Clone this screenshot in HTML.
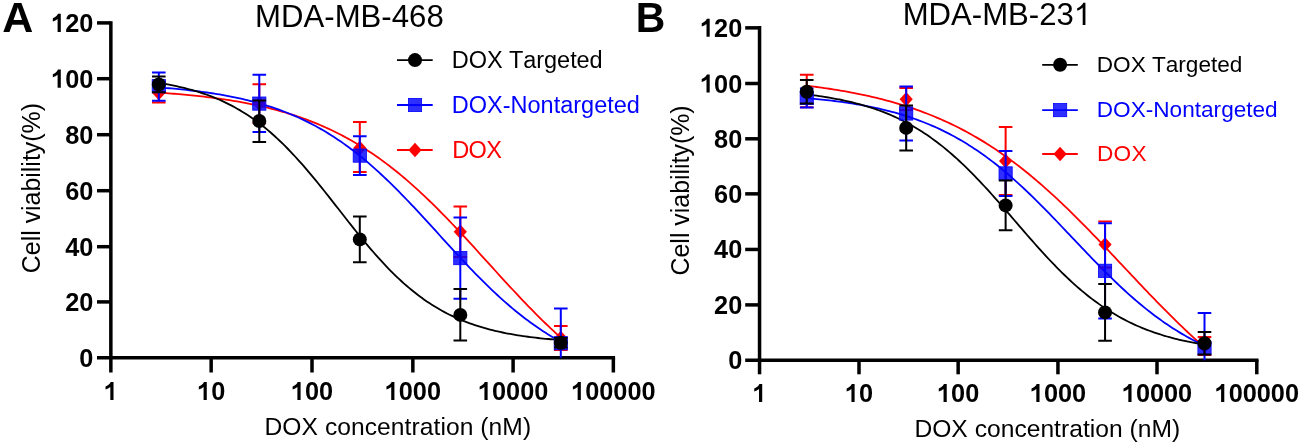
<!DOCTYPE html>
<html><head><meta charset="utf-8"><title>Cell viability</title>
<style>html,body{margin:0;padding:0;background:#fff;}body{width:1300px;height:445px;overflow:hidden;}svg{display:block;will-change:transform;}svg text{font-family:"Liberation Sans",sans-serif;}</style>
</head><body>
<svg width="1300" height="445" viewBox="0 0 1300 445" font-family="Liberation Sans, sans-serif">
<rect width="1300" height="445" fill="#fff"/>
<text transform="translate(2.2 32.4) scale(1.0 1)" font-size="43" font-weight="bold">A</text>
<text x="255.10" y="26.6" font-size="31.15">MDA-MB-468</text>
<path d="M110.85 21.15V357.80" stroke="#000" stroke-width="3.5" fill="none"/>
<path d="M97.00 357.80H615.10" stroke="#000" stroke-width="3.5" fill="none"/>
<text x="79.23" y="366.85" font-size="25.3" font-weight="bold" fill="#000">0</text>
<path d="M97.00 301.90H110.85" stroke="#000" stroke-width="3.5"/>
<text x="65.17" y="310.90" font-size="25.3" font-weight="bold" fill="#000">20</text>
<path d="M97.00 246.70H110.85" stroke="#000" stroke-width="3.5"/>
<text x="65.17" y="255.70" font-size="25.3" font-weight="bold" fill="#000">40</text>
<path d="M97.00 190.70H110.85" stroke="#000" stroke-width="3.5"/>
<text x="65.17" y="199.70" font-size="25.3" font-weight="bold" fill="#000">60</text>
<path d="M97.00 134.70H110.85" stroke="#000" stroke-width="3.5"/>
<text x="65.17" y="143.70" font-size="25.3" font-weight="bold" fill="#000">80</text>
<path d="M97.00 78.70H110.85" stroke="#000" stroke-width="3.5"/>
<path transform="translate(51.10 87.70) scale(25.3 -25.3)" d="M0.383 0L0.257 0L0.257 0.512C0.203 0.466 0.142 0.434 0.068 0.412L0.068 0.536C0.107 0.548 0.145 0.571 0.186 0.605C0.227 0.639 0.256 0.676 0.272 0.716L0.383 0.716Z" fill="#000"/>
<text x="65.17" y="87.70" font-size="25.3" font-weight="bold" fill="#000">00</text>
<path d="M97.00 22.90H110.85" stroke="#000" stroke-width="3.5"/>
<path transform="translate(51.10 31.90) scale(25.3 -25.3)" d="M0.383 0L0.257 0L0.257 0.512C0.203 0.466 0.142 0.434 0.068 0.412L0.068 0.536C0.107 0.548 0.145 0.571 0.186 0.605C0.227 0.639 0.256 0.676 0.272 0.716L0.383 0.716Z" fill="#000"/>
<text x="65.17" y="31.90" font-size="25.3" font-weight="bold" fill="#000">20</text>
<path d="M110.85 357.80V372.50" stroke="#000" stroke-width="3.5"/>
<path transform="translate(103.82 400.00) scale(25.3 -25.3)" d="M0.383 0L0.257 0L0.257 0.512C0.203 0.466 0.142 0.434 0.068 0.412L0.068 0.536C0.107 0.548 0.145 0.571 0.186 0.605C0.227 0.639 0.256 0.676 0.272 0.716L0.383 0.716Z" fill="#000"/>
<path d="M211.15 357.80V372.50" stroke="#000" stroke-width="3.5"/>
<path transform="translate(197.08 400.00) scale(25.3 -25.3)" d="M0.383 0L0.257 0L0.257 0.512C0.203 0.466 0.142 0.434 0.068 0.412L0.068 0.536C0.107 0.548 0.145 0.571 0.186 0.605C0.227 0.639 0.256 0.676 0.272 0.716L0.383 0.716Z" fill="#000"/>
<text x="211.15" y="400.00" font-size="25.3" font-weight="bold" fill="#000">0</text>
<path d="M312.00 357.80V372.50" stroke="#000" stroke-width="3.5"/>
<path transform="translate(290.90 400.00) scale(25.3 -25.3)" d="M0.383 0L0.257 0L0.257 0.512C0.203 0.466 0.142 0.434 0.068 0.412L0.068 0.536C0.107 0.548 0.145 0.571 0.186 0.605C0.227 0.639 0.256 0.676 0.272 0.716L0.383 0.716Z" fill="#000"/>
<text x="304.97" y="400.00" font-size="25.3" font-weight="bold" fill="#000">00</text>
<path d="M412.85 357.80V372.50" stroke="#000" stroke-width="3.5"/>
<path transform="translate(384.72 400.00) scale(25.3 -25.3)" d="M0.383 0L0.257 0L0.257 0.512C0.203 0.466 0.142 0.434 0.068 0.412L0.068 0.536C0.107 0.548 0.145 0.571 0.186 0.605C0.227 0.639 0.256 0.676 0.272 0.716L0.383 0.716Z" fill="#000"/>
<text x="398.78" y="400.00" font-size="25.3" font-weight="bold" fill="#000">000</text>
<path d="M513.10 357.80V372.50" stroke="#000" stroke-width="3.5"/>
<path transform="translate(477.93 400.00) scale(25.3 -25.3)" d="M0.383 0L0.257 0L0.257 0.512C0.203 0.466 0.142 0.434 0.068 0.412L0.068 0.536C0.107 0.548 0.145 0.571 0.186 0.605C0.227 0.639 0.256 0.676 0.272 0.716L0.383 0.716Z" fill="#000"/>
<text x="492.00" y="400.00" font-size="25.3" font-weight="bold" fill="#000">0000</text>
<path d="M613.35 357.80V372.50" stroke="#000" stroke-width="3.5"/>
<path transform="translate(571.15 400.00) scale(25.3 -25.3)" d="M0.383 0L0.257 0L0.257 0.512C0.203 0.466 0.142 0.434 0.068 0.412L0.068 0.536C0.107 0.548 0.145 0.571 0.186 0.605C0.227 0.639 0.256 0.676 0.272 0.716L0.383 0.716Z" fill="#000"/>
<text x="585.22" y="400.00" font-size="25.3" font-weight="bold" fill="#000">00000</text>
<text id="L_xt" x="264.50" textLength="266.60" lengthAdjust="spacing" y="435.2" font-size="24.6" style="font-kerning:none">DOX concentration (nM)</text>
<text transform="translate(39.6 188.1) rotate(-90)" font-size="24.9" text-anchor="middle">Cell viability(%)</text>
<polyline points="158.80,92.60 161.33,92.77 163.86,92.95 166.39,93.14 168.91,93.33 171.44,93.53 173.97,93.73 176.50,93.94 179.03,94.16 181.56,94.38 184.08,94.61 186.61,94.85 189.14,95.09 191.67,95.34 194.20,95.60 196.73,95.87 199.25,96.15 201.78,96.43 204.31,96.72 206.84,97.03 209.37,97.34 211.90,97.66 214.42,97.99 216.95,98.33 219.48,98.68 222.01,99.04 224.54,99.42 227.06,99.80 229.59,100.19 232.12,100.60 234.65,101.02 237.18,101.45 239.71,101.90 242.23,102.35 244.76,102.83 247.29,103.31 249.82,103.81 252.35,104.32 254.88,104.85 257.40,105.40 259.93,105.96 262.46,106.53 264.99,107.12 267.52,107.73 270.05,108.36 272.57,109.01 275.10,109.67 277.63,110.35 280.16,111.05 282.69,111.77 285.22,112.51 287.74,113.27 290.27,114.05 292.80,114.86 295.33,115.68 297.86,116.53 300.39,117.40 302.91,118.29 305.44,119.21 307.97,120.15 310.50,121.11 313.03,122.10 315.56,123.12 318.08,124.16 320.61,125.23 323.14,126.32 325.67,127.45 328.20,128.60 330.73,129.78 333.25,130.98 335.78,132.22 338.31,133.49 340.84,134.78 343.37,136.11 345.90,137.47 348.42,138.86 350.95,140.28 353.48,141.73 356.01,143.21 358.54,144.73 361.06,146.28 363.59,147.86 366.12,149.48 368.65,151.13 371.18,152.81 373.71,154.53 376.23,156.28 378.76,158.06 381.29,159.88 383.82,161.74 386.35,163.62 388.88,165.54 391.40,167.50 393.93,169.49 396.46,171.51 398.99,173.57 401.52,175.66 404.05,177.78 406.57,179.94 409.10,182.13 411.63,184.35 414.16,186.60 416.69,188.88 419.22,191.20 421.74,193.54 424.27,195.92 426.80,198.32 429.33,200.75 431.86,203.21 434.39,205.69 436.91,208.20 439.44,210.74 441.97,213.30 444.50,215.88 447.03,218.48 449.56,221.10 452.08,223.75 454.61,226.41 457.14,229.09 459.67,231.78 462.20,234.49 464.73,237.22 467.25,239.96 469.78,242.70 472.31,245.46 474.84,248.23 477.37,251.00 479.90,253.78 482.42,256.56 484.95,259.34 487.48,262.13 490.01,264.92 492.54,267.70 495.06,270.48 497.59,273.26 500.12,276.03 502.65,278.80 505.18,281.56 507.71,284.30 510.23,287.04 512.76,289.76 515.29,292.47 517.82,295.17 520.35,297.85 522.88,300.51 525.40,303.15 527.93,305.78 530.46,308.38 532.99,310.96 535.52,313.52 538.05,316.05 540.57,318.56 543.10,321.04 545.63,323.50 548.16,325.93 550.69,328.33 553.22,330.71 555.74,333.05 558.27,335.36 560.80,337.65" fill="none" stroke="#ff0000" stroke-width="1.8"/>
<polyline points="158.80,87.45 161.33,87.64 163.86,87.83 166.39,88.04 168.91,88.25 171.44,88.47 173.97,88.70 176.50,88.93 179.03,89.18 181.56,89.43 184.08,89.69 186.61,89.96 189.14,90.24 191.67,90.53 194.20,90.83 196.73,91.14 199.25,91.47 201.78,91.80 204.31,92.14 206.84,92.50 209.37,92.87 211.90,93.25 214.42,93.65 216.95,94.06 219.48,94.48 222.01,94.91 224.54,95.37 227.06,95.83 229.59,96.32 232.12,96.82 234.65,97.33 237.18,97.87 239.71,98.42 242.23,98.99 244.76,99.58 247.29,100.18 249.82,100.81 252.35,101.46 254.88,102.13 257.40,102.82 259.93,103.53 262.46,104.27 264.99,105.03 267.52,105.81 270.05,106.62 272.57,107.45 275.10,108.31 277.63,109.19 280.16,110.10 282.69,111.04 285.22,112.01 287.74,113.01 290.27,114.03 292.80,115.09 295.33,116.18 297.86,117.30 300.39,118.45 302.91,119.63 305.44,120.84 307.97,122.09 310.50,123.38 313.03,124.70 315.56,126.05 318.08,127.44 320.61,128.86 323.14,130.32 325.67,131.82 328.20,133.36 330.73,134.93 333.25,136.54 335.78,138.19 338.31,139.88 340.84,141.61 343.37,143.38 345.90,145.18 348.42,147.03 350.95,148.91 353.48,150.83 356.01,152.79 358.54,154.79 361.06,156.83 363.59,158.91 366.12,161.02 368.65,163.18 371.18,165.37 373.71,167.59 376.23,169.86 378.76,172.15 381.29,174.49 383.82,176.85 386.35,179.25 388.88,181.68 391.40,184.14 393.93,186.63 396.46,189.15 398.99,191.70 401.52,194.27 404.05,196.87 406.57,199.50 409.10,202.14 411.63,204.80 414.16,207.49 416.69,210.19 419.22,212.90 421.74,215.64 424.27,218.38 426.80,221.13 429.33,223.89 431.86,226.66 434.39,229.44 436.91,232.21 439.44,234.99 441.97,237.77 444.50,240.54 447.03,243.31 449.56,246.08 452.08,248.84 454.61,251.58 457.14,254.32 459.67,257.04 462.20,259.75 464.73,262.44 467.25,265.12 469.78,267.77 472.31,270.40 474.84,273.01 477.37,275.60 479.90,278.16 482.42,280.69 484.95,283.19 487.48,285.67 490.01,288.11 492.54,290.53 495.06,292.91 497.59,295.26 500.12,297.57 502.65,299.85 505.18,302.09 507.71,304.30 510.23,306.47 512.76,308.60 515.29,310.69 517.82,312.75 520.35,314.77 522.88,316.75 525.40,318.69 527.93,320.59 530.46,322.45 532.99,324.27 535.52,326.06 538.05,327.80 540.57,329.51 543.10,331.18 545.63,332.80 548.16,334.40 550.69,335.95 553.22,337.46 555.74,338.94 558.27,340.38 560.80,341.79" fill="none" stroke="#0000ff" stroke-width="1.8"/>
<polyline points="158.80,82.91 161.33,83.32 163.86,83.75 166.39,84.20 168.91,84.67 171.44,85.15 173.97,85.67 176.50,86.20 179.03,86.76 181.56,87.34 184.08,87.95 186.61,88.59 189.14,89.25 191.67,89.94 194.20,90.67 196.73,91.42 199.25,92.21 201.78,93.03 204.31,93.88 206.84,94.77 209.37,95.70 211.90,96.66 214.42,97.66 216.95,98.71 219.48,99.79 222.01,100.92 224.54,102.10 227.06,103.32 229.59,104.58 232.12,105.90 234.65,107.26 237.18,108.67 239.71,110.14 242.23,111.66 244.76,113.23 247.29,114.85 249.82,116.53 252.35,118.27 254.88,120.07 257.40,121.92 259.93,123.83 262.46,125.80 264.99,127.82 267.52,129.91 270.05,132.06 272.57,134.27 275.10,136.53 277.63,138.86 280.16,141.24 282.69,143.69 285.22,146.19 287.74,148.75 290.27,151.36 292.80,154.03 295.33,156.74 297.86,159.52 300.39,162.34 302.91,165.20 305.44,168.12 307.97,171.07 310.50,174.07 313.03,177.10 315.56,180.17 318.08,183.27 320.61,186.40 323.14,189.55 325.67,192.73 328.20,195.92 330.73,199.13 333.25,202.35 335.78,205.58 338.31,208.81 340.84,212.05 343.37,215.28 345.90,218.50 348.42,221.71 350.95,224.91 353.48,228.09 356.01,231.25 358.54,234.38 361.06,237.49 363.59,240.56 366.12,243.60 368.65,246.60 371.18,249.57 373.71,252.49 376.23,255.37 378.76,258.20 381.29,260.98 383.82,263.71 386.35,266.38 388.88,269.01 391.40,271.58 393.93,274.09 396.46,276.54 398.99,278.94 401.52,281.28 404.05,283.56 406.57,285.77 409.10,287.93 411.63,290.03 414.16,292.07 416.69,294.06 419.22,295.98 421.74,297.84 424.27,299.65 426.80,301.39 429.33,303.09 431.86,304.72 434.39,306.30 436.91,307.83 439.44,309.31 441.97,310.73 444.50,312.11 447.03,313.43 449.56,314.70 452.08,315.93 454.61,317.12 457.14,318.25 459.67,319.35 462.20,320.40 464.73,321.41 467.25,322.39 469.78,323.32 472.31,324.22 474.84,325.08 477.37,325.90 479.90,326.70 482.42,327.46 484.95,328.19 487.48,328.88 490.01,329.55 492.54,330.20 495.06,330.81 497.59,331.40 500.12,331.96 502.65,332.50 505.18,333.02 507.71,333.51 510.23,333.98 512.76,334.43 515.29,334.87 517.82,335.28 520.35,335.68 522.88,336.05 525.40,336.41 527.93,336.76 530.46,337.09 532.99,337.40 535.52,337.71 538.05,337.99 540.57,338.27 543.10,338.53 545.63,338.78 548.16,339.02 550.69,339.25 553.22,339.47 555.74,339.68 558.27,339.87 560.80,340.06" fill="none" stroke="#000000" stroke-width="1.8"/>
<path d="M158.80 84.00V102.60M152.00 84.00H165.60M152.00 102.60H165.60" stroke="#ff0000" stroke-width="2.0" fill="none"/>
<path d="M158.80 85.70L165.40 93.00L158.80 100.30L152.20 93.00Z" fill="#ff0000"/>
<path d="M259.30 84.30V122.70M252.50 84.30H266.10M252.50 122.70H266.10" stroke="#ff0000" stroke-width="2.0" fill="none"/>
<path d="M259.30 96.20L265.90 103.50L259.30 110.80L252.70 103.50Z" fill="#ff0000"/>
<path d="M359.80 122.00V172.00M353.00 122.00H366.60M353.00 172.00H366.60" stroke="#ff0000" stroke-width="2.0" fill="none"/>
<path d="M359.80 140.70L366.40 148.00L359.80 155.30L353.20 148.00Z" fill="#ff0000"/>
<path d="M460.30 206.50V257.00M453.50 206.50H467.10M453.50 257.00H467.10" stroke="#ff0000" stroke-width="2.0" fill="none"/>
<path d="M460.30 224.45L466.90 231.75L460.30 239.05L453.70 231.75Z" fill="#ff0000"/>
<path d="M560.80 326.00V350.00M554.00 326.00H567.60M554.00 350.00H567.60" stroke="#ff0000" stroke-width="2.0" fill="none"/>
<path d="M560.80 330.70L567.40 338.00L560.80 345.30L554.20 338.00Z" fill="#ff0000"/>
<path d="M158.80 72.50V100.80M152.00 72.50H165.60M152.00 100.80H165.60" stroke="#0000ff" stroke-width="2.0" fill="none"/>
<rect x="152.20" y="79.60" width="13.2" height="13.2" fill="#0000ff" fill-opacity="0.82" stroke="#0000ff" stroke-width="0.8"/>
<path d="M259.30 74.80V131.90M252.50 74.80H266.10M252.50 131.90H266.10" stroke="#0000ff" stroke-width="2.0" fill="none"/>
<rect x="252.70" y="97.00" width="13.2" height="13.2" fill="#0000ff" fill-opacity="0.82" stroke="#0000ff" stroke-width="0.8"/>
<path d="M359.80 136.20V174.90M353.00 136.20H366.60M353.00 174.90H366.60" stroke="#0000ff" stroke-width="2.0" fill="none"/>
<rect x="353.20" y="149.00" width="13.2" height="13.2" fill="#0000ff" fill-opacity="0.82" stroke="#0000ff" stroke-width="0.8"/>
<path d="M460.30 217.40V298.80M453.50 217.40H467.10M453.50 298.80H467.10" stroke="#0000ff" stroke-width="2.0" fill="none"/>
<rect x="453.70" y="251.50" width="13.2" height="13.2" fill="#0000ff" fill-opacity="0.82" stroke="#0000ff" stroke-width="0.8"/>
<path d="M560.80 308.40V357.80M554.00 308.40H567.60" stroke="#0000ff" stroke-width="2.0" fill="none"/>
<rect x="554.20" y="336.60" width="13.2" height="13.2" fill="#0000ff" fill-opacity="0.82" stroke="#0000ff" stroke-width="0.8"/>
<path d="M158.80 76.50V92.30M152.00 76.50H165.60M152.00 92.30H165.60" stroke="#000000" stroke-width="2.0" fill="none"/>
<circle cx="158.80" cy="84.40" r="7.0" fill="#000"/>
<path d="M259.30 100.50V142.00M252.50 100.50H266.10M252.50 142.00H266.10" stroke="#000000" stroke-width="2.0" fill="none"/>
<circle cx="259.30" cy="121.00" r="7.0" fill="#000"/>
<path d="M359.80 216.40V262.20M353.00 216.40H366.60M353.00 262.20H366.60" stroke="#000000" stroke-width="2.0" fill="none"/>
<circle cx="359.80" cy="239.40" r="7.0" fill="#000"/>
<path d="M460.30 288.90V340.60M453.50 288.90H467.10M453.50 340.60H467.10" stroke="#000000" stroke-width="2.0" fill="none"/>
<circle cx="460.30" cy="314.90" r="7.0" fill="#000"/>
<path d="M560.80 338.00V347.60M554.00 338.00H567.60M554.00 347.60H567.60" stroke="#000000" stroke-width="2.0" fill="none"/>
<circle cx="560.80" cy="342.80" r="7.0" fill="#000"/>
<path d="M397.00 60.10H432.70" stroke="#000000" stroke-width="1.8"/>
<circle cx="415.00" cy="60.10" r="7.0" fill="#000"/>
<text id="L_black" x="451.80" textLength="150.90" lengthAdjust="spacing" y="68.1" font-size="23.5" fill="#000000" style="font-kerning:none">DOX Targeted</text>
<path d="M397.00 105.00H432.70" stroke="#0000ff" stroke-width="1.8"/>
<rect x="408.40" y="98.40" width="13.2" height="13.2" fill="#0000ff" fill-opacity="0.82" stroke="#0000ff" stroke-width="0.8"/>
<text id="L_blue" x="451.80" textLength="188.10" lengthAdjust="spacing" y="112.8" font-size="23.5" fill="#0000ff" style="font-kerning:none">DOX-Nontargeted</text>
<path d="M397.00 150.00H432.70" stroke="#ff0000" stroke-width="1.8"/>
<path d="M415.00 142.70L421.60 150.00L415.00 157.30L408.40 150.00Z" fill="#ff0000"/>
<text id="L_red" x="452.30" textLength="49.60" lengthAdjust="spacing" y="157.7" font-size="23.5" fill="#ff0000" style="font-kerning:none">DOX</text>
<text transform="translate(635.8 32.1) scale(0.95 1)" font-size="43" font-weight="bold">B</text>
<text x="902.67" y="25.0" font-size="31.12">MDA-MB-23</text>
<path transform="translate(1073.83 25.0) scale(31.12 -31.12)" d="M0.3726 0L0.2847 0L0.2847 0.56C0.2632 0.5395 0.2349 0.519 0.2002 0.4985C0.1655 0.478 0.1343 0.4624 0.1079 0.4541L0.1079 0.539C0.155 0.5615 0.196 0.589 0.231 0.621C0.266 0.653 0.291 0.685 0.305 0.7188L0.3726 0.7188Z" fill="#000"/>
<path d="M759.55 26.10V360.20" stroke="#000" stroke-width="3.5" fill="none"/>
<path d="M745.20 360.20H1258.55" stroke="#000" stroke-width="3.5" fill="none"/>
<text x="728.13" y="369.20" font-size="25.3" font-weight="bold" fill="#000">0</text>
<path d="M745.20 304.90H759.55" stroke="#000" stroke-width="3.5"/>
<text x="714.07" y="313.90" font-size="25.3" font-weight="bold" fill="#000">20</text>
<path d="M745.20 249.45H759.55" stroke="#000" stroke-width="3.5"/>
<text x="714.07" y="258.45" font-size="25.3" font-weight="bold" fill="#000">40</text>
<path d="M745.20 193.85H759.55" stroke="#000" stroke-width="3.5"/>
<text x="714.07" y="202.85" font-size="25.3" font-weight="bold" fill="#000">60</text>
<path d="M745.20 138.80H759.55" stroke="#000" stroke-width="3.5"/>
<text x="714.07" y="147.80" font-size="25.3" font-weight="bold" fill="#000">80</text>
<path d="M745.20 83.50H759.55" stroke="#000" stroke-width="3.5"/>
<path transform="translate(700.00 92.50) scale(25.3 -25.3)" d="M0.383 0L0.257 0L0.257 0.512C0.203 0.466 0.142 0.434 0.068 0.412L0.068 0.536C0.107 0.548 0.145 0.571 0.186 0.605C0.227 0.639 0.256 0.676 0.272 0.716L0.383 0.716Z" fill="#000"/>
<text x="714.07" y="92.50" font-size="25.3" font-weight="bold" fill="#000">00</text>
<path d="M745.20 27.85H759.55" stroke="#000" stroke-width="3.5"/>
<path transform="translate(700.00 36.85) scale(25.3 -25.3)" d="M0.383 0L0.257 0L0.257 0.512C0.203 0.466 0.142 0.434 0.068 0.412L0.068 0.536C0.107 0.548 0.145 0.571 0.186 0.605C0.227 0.639 0.256 0.676 0.272 0.716L0.383 0.716Z" fill="#000"/>
<text x="714.07" y="36.85" font-size="25.3" font-weight="bold" fill="#000">20</text>
<path d="M759.55 360.20V374.30" stroke="#000" stroke-width="3.5"/>
<path transform="translate(752.52 402.00) scale(25.3 -25.3)" d="M0.383 0L0.257 0L0.257 0.512C0.203 0.466 0.142 0.434 0.068 0.412L0.068 0.536C0.107 0.548 0.145 0.571 0.186 0.605C0.227 0.639 0.256 0.676 0.272 0.716L0.383 0.716Z" fill="#000"/>
<path d="M859.00 360.20V374.30" stroke="#000" stroke-width="3.5"/>
<path transform="translate(844.93 402.00) scale(25.3 -25.3)" d="M0.383 0L0.257 0L0.257 0.512C0.203 0.466 0.142 0.434 0.068 0.412L0.068 0.536C0.107 0.548 0.145 0.571 0.186 0.605C0.227 0.639 0.256 0.676 0.272 0.716L0.383 0.716Z" fill="#000"/>
<text x="859.00" y="402.00" font-size="25.3" font-weight="bold" fill="#000">0</text>
<path d="M958.15 360.20V374.30" stroke="#000" stroke-width="3.5"/>
<path transform="translate(937.05 402.00) scale(25.3 -25.3)" d="M0.383 0L0.257 0L0.257 0.512C0.203 0.466 0.142 0.434 0.068 0.412L0.068 0.536C0.107 0.548 0.145 0.571 0.186 0.605C0.227 0.639 0.256 0.676 0.272 0.716L0.383 0.716Z" fill="#000"/>
<text x="951.12" y="402.00" font-size="25.3" font-weight="bold" fill="#000">00</text>
<path d="M1057.95 360.20V374.30" stroke="#000" stroke-width="3.5"/>
<path transform="translate(1029.82 402.00) scale(25.3 -25.3)" d="M0.383 0L0.257 0L0.257 0.512C0.203 0.466 0.142 0.434 0.068 0.412L0.068 0.536C0.107 0.548 0.145 0.571 0.186 0.605C0.227 0.639 0.256 0.676 0.272 0.716L0.383 0.716Z" fill="#000"/>
<text x="1043.88" y="402.00" font-size="25.3" font-weight="bold" fill="#000">000</text>
<path d="M1157.00 360.20V374.30" stroke="#000" stroke-width="3.5"/>
<path transform="translate(1121.83 402.00) scale(25.3 -25.3)" d="M0.383 0L0.257 0L0.257 0.512C0.203 0.466 0.142 0.434 0.068 0.412L0.068 0.536C0.107 0.548 0.145 0.571 0.186 0.605C0.227 0.639 0.256 0.676 0.272 0.716L0.383 0.716Z" fill="#000"/>
<text x="1135.90" y="402.00" font-size="25.3" font-weight="bold" fill="#000">0000</text>
<path d="M1256.80 360.20V374.30" stroke="#000" stroke-width="3.5"/>
<path transform="translate(1214.60 402.00) scale(25.3 -25.3)" d="M0.383 0L0.257 0L0.257 0.512C0.203 0.466 0.142 0.434 0.068 0.412L0.068 0.536C0.107 0.548 0.145 0.571 0.186 0.605C0.227 0.639 0.256 0.676 0.272 0.716L0.383 0.716Z" fill="#000"/>
<text x="1228.67" y="402.00" font-size="25.3" font-weight="bold" fill="#000">00000</text>
<text id="R_xt" x="914.40" textLength="265.80" lengthAdjust="spacing" y="436.5" font-size="24.6" style="font-kerning:none">DOX concentration (nM)</text>
<text transform="translate(689.0 190.4) rotate(-90)" font-size="24.9" text-anchor="middle">Cell viability(%)</text>
<polyline points="806.74,85.74 809.25,86.04 811.75,86.35 814.25,86.67 816.75,86.99 819.25,87.33 821.75,87.67 824.26,88.03 826.76,88.39 829.26,88.76 831.76,89.14 834.26,89.53 836.76,89.94 839.27,90.35 841.77,90.77 844.27,91.20 846.77,91.65 849.27,92.11 851.77,92.57 854.28,93.05 856.78,93.55 859.28,94.05 861.78,94.57 864.28,95.10 866.78,95.64 869.29,96.20 871.79,96.77 874.29,97.36 876.79,97.96 879.29,98.57 881.79,99.20 884.30,99.85 886.80,100.51 889.30,101.19 891.80,101.88 894.30,102.59 896.80,103.32 899.31,104.06 901.81,104.83 904.31,105.61 906.81,106.41 909.31,107.22 911.81,108.06 914.32,108.92 916.82,109.79 919.32,110.69 921.82,111.61 924.32,112.55 926.82,113.51 929.33,114.49 931.83,115.49 934.33,116.51 936.83,117.56 939.33,118.63 941.83,119.72 944.33,120.84 946.84,121.98 949.34,123.14 951.84,124.33 954.34,125.55 956.84,126.79 959.34,128.05 961.85,129.34 964.35,130.66 966.85,132.00 969.35,133.37 971.85,134.76 974.35,136.18 976.86,137.63 979.36,139.11 981.86,140.61 984.36,142.14 986.86,143.70 989.36,145.29 991.87,146.90 994.37,148.55 996.87,150.22 999.37,151.92 1001.87,153.65 1004.37,155.41 1006.88,157.19 1009.38,159.01 1011.88,160.85 1014.38,162.72 1016.88,164.62 1019.38,166.55 1021.89,168.50 1024.39,170.49 1026.89,172.50 1029.39,174.54 1031.89,176.60 1034.39,178.70 1036.90,180.82 1039.40,182.96 1041.90,185.14 1044.40,187.34 1046.90,189.56 1049.40,191.81 1051.91,194.08 1054.41,196.38 1056.91,198.70 1059.41,201.04 1061.91,203.41 1064.41,205.80 1066.92,208.21 1069.42,210.63 1071.92,213.08 1074.42,215.55 1076.92,218.04 1079.42,220.54 1081.92,223.06 1084.43,225.60 1086.93,228.15 1089.43,230.71 1091.93,233.29 1094.43,235.88 1096.93,238.48 1099.44,241.10 1101.94,243.72 1104.44,246.35 1106.94,248.99 1109.44,251.63 1111.94,254.28 1114.45,256.94 1116.95,259.60 1119.45,262.26 1121.95,264.92 1124.45,267.59 1126.95,270.25 1129.46,272.91 1131.96,275.57 1134.46,278.23 1136.96,280.88 1139.46,283.52 1141.96,286.16 1144.47,288.79 1146.97,291.42 1149.47,294.03 1151.97,296.63 1154.47,299.22 1156.97,301.80 1159.48,304.37 1161.98,306.92 1164.48,309.46 1166.98,311.98 1169.48,314.48 1171.98,316.97 1174.49,319.44 1176.99,321.89 1179.49,324.32 1181.99,326.72 1184.49,329.11 1186.99,331.48 1189.50,333.82 1192.00,336.15 1194.50,338.44 1197.00,340.72 1199.50,342.97 1202.00,345.19 1204.50,347.39" fill="none" stroke="#ff0000" stroke-width="1.8"/>
<polyline points="806.74,98.13 809.25,98.35 811.75,98.57 814.25,98.81 816.75,99.05 819.25,99.30 821.75,99.56 824.26,99.83 826.76,100.10 829.26,100.39 831.76,100.69 834.26,100.99 836.76,101.31 839.27,101.64 841.77,101.98 844.27,102.33 846.77,102.70 849.27,103.08 851.77,103.46 854.28,103.87 856.78,104.28 859.28,104.72 861.78,105.16 864.28,105.62 866.78,106.10 869.29,106.59 871.79,107.10 874.29,107.62 876.79,108.16 879.29,108.72 881.79,109.30 884.30,109.90 886.80,110.52 889.30,111.15 891.80,111.81 894.30,112.49 896.80,113.19 899.31,113.91 901.81,114.66 904.31,115.42 906.81,116.22 909.31,117.03 911.81,117.87 914.32,118.74 916.82,119.63 919.32,120.55 921.82,121.50 924.32,122.47 926.82,123.48 929.33,124.51 931.83,125.57 934.33,126.66 936.83,127.79 939.33,128.94 941.83,130.13 944.33,131.35 946.84,132.60 949.34,133.88 951.84,135.20 954.34,136.55 956.84,137.94 959.34,139.36 961.85,140.82 964.35,142.31 966.85,143.84 969.35,145.41 971.85,147.01 974.35,148.65 976.86,150.32 979.36,152.03 981.86,153.78 984.36,155.57 986.86,157.39 989.36,159.25 991.87,161.15 994.37,163.08 996.87,165.05 999.37,167.06 1001.87,169.10 1004.37,171.18 1006.88,173.29 1009.38,175.44 1011.88,177.62 1014.38,179.83 1016.88,182.07 1019.38,184.35 1021.89,186.65 1024.39,188.99 1026.89,191.36 1029.39,193.75 1031.89,196.16 1034.39,198.61 1036.90,201.08 1039.40,203.56 1041.90,206.08 1044.40,208.61 1046.90,211.15 1049.40,213.72 1051.91,216.30 1054.41,218.90 1056.91,221.50 1059.41,224.12 1061.91,226.75 1064.41,229.38 1066.92,232.02 1069.42,234.66 1071.92,237.30 1074.42,239.95 1076.92,242.59 1079.42,245.23 1081.92,247.86 1084.43,250.49 1086.93,253.10 1089.43,255.71 1091.93,258.31 1094.43,260.89 1096.93,263.46 1099.44,266.01 1101.94,268.54 1104.44,271.05 1106.94,273.54 1109.44,276.01 1111.94,278.45 1114.45,280.87 1116.95,283.27 1119.45,285.63 1121.95,287.97 1124.45,290.28 1126.95,292.56 1129.46,294.81 1131.96,297.02 1134.46,299.20 1136.96,301.35 1139.46,303.46 1141.96,305.54 1144.47,307.59 1146.97,309.60 1149.47,311.57 1151.97,313.51 1154.47,315.41 1156.97,317.27 1159.48,319.09 1161.98,320.88 1164.48,322.64 1166.98,324.35 1169.48,326.03 1171.98,327.67 1174.49,329.27 1176.99,330.84 1179.49,332.37 1181.99,333.87 1184.49,335.33 1186.99,336.75 1189.50,338.14 1192.00,339.50 1194.50,340.82 1197.00,342.11 1199.50,343.36 1202.00,344.58 1204.50,345.77" fill="none" stroke="#0000ff" stroke-width="1.8"/>
<polyline points="806.74,94.45 809.25,94.75 811.75,95.06 814.25,95.39 816.75,95.73 819.25,96.08 821.75,96.45 824.26,96.84 826.76,97.24 829.26,97.65 831.76,98.09 834.26,98.54 836.76,99.01 839.27,99.49 841.77,100.00 844.27,100.53 846.77,101.08 849.27,101.65 851.77,102.25 854.28,102.87 856.78,103.51 859.28,104.17 861.78,104.87 864.28,105.59 866.78,106.34 869.29,107.11 871.79,107.92 874.29,108.75 876.79,109.62 879.29,110.52 881.79,111.45 884.30,112.42 886.80,113.42 889.30,114.45 891.80,115.53 894.30,116.64 896.80,117.79 899.31,118.97 901.81,120.20 904.31,121.47 906.81,122.78 909.31,124.14 911.81,125.54 914.32,126.98 916.82,128.46 919.32,130.00 921.82,131.57 924.32,133.20 926.82,134.87 929.33,136.59 931.83,138.36 934.33,140.17 936.83,142.04 939.33,143.95 941.83,145.91 944.33,147.92 946.84,149.98 949.34,152.09 951.84,154.25 954.34,156.45 956.84,158.70 959.34,160.99 961.85,163.33 964.35,165.72 966.85,168.15 969.35,170.62 971.85,173.13 974.35,175.68 976.86,178.27 979.36,180.89 981.86,183.55 984.36,186.24 986.86,188.96 989.36,191.71 991.87,194.49 994.37,197.29 996.87,200.12 999.37,202.96 1001.87,205.82 1004.37,208.69 1006.88,211.57 1009.38,214.46 1011.88,217.36 1014.38,220.26 1016.88,223.17 1019.38,226.07 1021.89,228.96 1024.39,231.85 1026.89,234.73 1029.39,237.59 1031.89,240.44 1034.39,243.27 1036.90,246.08 1039.40,248.87 1041.90,251.63 1044.40,254.36 1046.90,257.06 1049.40,259.74 1051.91,262.37 1054.41,264.98 1056.91,267.54 1059.41,270.07 1061.91,272.55 1064.41,275.00 1066.92,277.40 1069.42,279.76 1071.92,282.07 1074.42,284.34 1076.92,286.56 1079.42,288.73 1081.92,290.86 1084.43,292.93 1086.93,294.96 1089.43,296.94 1091.93,298.88 1094.43,300.76 1096.93,302.59 1099.44,304.38 1101.94,306.12 1104.44,307.81 1106.94,309.45 1109.44,311.05 1111.94,312.60 1114.45,314.10 1116.95,315.56 1119.45,316.98 1121.95,318.35 1124.45,319.67 1126.95,320.96 1129.46,322.20 1131.96,323.41 1134.46,324.57 1136.96,325.70 1139.46,326.78 1141.96,327.83 1144.47,328.85 1146.97,329.83 1149.47,330.77 1151.97,331.68 1154.47,332.56 1156.97,333.41 1159.48,334.23 1161.98,335.01 1164.48,335.77 1166.98,336.50 1169.48,337.21 1171.98,337.88 1174.49,338.54 1176.99,339.16 1179.49,339.77 1181.99,340.35 1184.49,340.90 1186.99,341.44 1189.50,341.96 1192.00,342.45 1194.50,342.93 1197.00,343.39 1199.50,343.83 1202.00,344.25 1204.50,344.66" fill="none" stroke="#000000" stroke-width="1.8"/>
<path d="M806.74 74.80V107.20M799.94 74.80H813.54M799.94 107.20H813.54" stroke="#ff0000" stroke-width="2.0" fill="none"/>
<path d="M806.74 83.70L813.34 91.00L806.74 98.30L800.14 91.00Z" fill="#ff0000"/>
<path d="M906.18 88.00V110.00M899.38 88.00H912.98M899.38 110.00H912.98" stroke="#ff0000" stroke-width="2.0" fill="none"/>
<path d="M906.18 92.00L912.78 99.30L906.18 106.60L899.58 99.30Z" fill="#ff0000"/>
<path d="M1005.62 127.00V195.00M998.82 127.00H1012.42M998.82 195.00H1012.42" stroke="#ff0000" stroke-width="2.0" fill="none"/>
<path d="M1005.62 153.70L1012.22 161.00L1005.62 168.30L999.02 161.00Z" fill="#ff0000"/>
<path d="M1105.06 221.60V267.40M1098.26 221.60H1111.86M1098.26 267.40H1111.86" stroke="#ff0000" stroke-width="2.0" fill="none"/>
<path d="M1105.06 237.20L1111.66 244.50L1105.06 251.80L1098.46 244.50Z" fill="#ff0000"/>
<path d="M1204.50 337.00V355.00M1197.70 337.00H1211.30M1197.70 355.00H1211.30" stroke="#ff0000" stroke-width="2.0" fill="none"/>
<path d="M1204.50 338.70L1211.10 346.00L1204.50 353.30L1197.90 346.00Z" fill="#ff0000"/>
<path d="M806.74 88.60V107.40M799.94 88.60H813.54M799.94 107.40H813.54" stroke="#0000ff" stroke-width="2.0" fill="none"/>
<rect x="800.14" y="91.40" width="13.2" height="13.2" fill="#0000ff" fill-opacity="0.82" stroke="#0000ff" stroke-width="0.8"/>
<path d="M906.18 86.60V140.50M899.38 86.60H912.98M899.38 140.50H912.98" stroke="#0000ff" stroke-width="2.0" fill="none"/>
<rect x="899.58" y="106.90" width="13.2" height="13.2" fill="#0000ff" fill-opacity="0.82" stroke="#0000ff" stroke-width="0.8"/>
<path d="M1005.62 150.90V195.90M998.82 150.90H1012.42M998.82 195.90H1012.42" stroke="#0000ff" stroke-width="2.0" fill="none"/>
<rect x="999.02" y="166.80" width="13.2" height="13.2" fill="#0000ff" fill-opacity="0.82" stroke="#0000ff" stroke-width="0.8"/>
<path d="M1105.06 223.20V318.40M1098.26 223.20H1111.86M1098.26 318.40H1111.86" stroke="#0000ff" stroke-width="2.0" fill="none"/>
<rect x="1098.46" y="264.20" width="13.2" height="13.2" fill="#0000ff" fill-opacity="0.82" stroke="#0000ff" stroke-width="0.8"/>
<path d="M1204.50 313.10V360.20M1197.70 313.10H1211.30" stroke="#0000ff" stroke-width="2.0" fill="none"/>
<rect x="1197.90" y="341.60" width="13.2" height="13.2" fill="#0000ff" fill-opacity="0.82" stroke="#0000ff" stroke-width="0.8"/>
<path d="M806.74 80.10V103.50M799.94 80.10H813.54M799.94 103.50H813.54" stroke="#000000" stroke-width="2.0" fill="none"/>
<circle cx="806.74" cy="91.80" r="7.0" fill="#000"/>
<path d="M906.18 105.40V150.40M899.38 105.40H912.98M899.38 150.40H912.98" stroke="#000000" stroke-width="2.0" fill="none"/>
<circle cx="906.18" cy="127.90" r="7.0" fill="#000"/>
<path d="M1005.62 180.50V230.30M998.82 180.50H1012.42M998.82 230.30H1012.42" stroke="#000000" stroke-width="2.0" fill="none"/>
<circle cx="1005.62" cy="205.40" r="7.0" fill="#000"/>
<path d="M1105.06 284.10V340.70M1098.26 284.10H1111.86M1098.26 340.70H1111.86" stroke="#000000" stroke-width="2.0" fill="none"/>
<circle cx="1105.06" cy="312.40" r="7.0" fill="#000"/>
<path d="M1204.50 332.00V354.60M1197.70 332.00H1211.30M1197.70 354.60H1211.30" stroke="#000000" stroke-width="2.0" fill="none"/>
<circle cx="1204.50" cy="343.30" r="7.0" fill="#000"/>
<path d="M1042.20 64.80H1077.80" stroke="#000000" stroke-width="1.8"/>
<circle cx="1060.10" cy="64.80" r="7.0" fill="#000"/>
<text id="R_black" x="1096.80" textLength="145.60" lengthAdjust="spacing" y="72.1" font-size="22.6" fill="#000000" style="font-kerning:none">DOX Targeted</text>
<path d="M1042.20 110.10H1077.80" stroke="#0000ff" stroke-width="1.8"/>
<rect x="1053.50" y="103.50" width="13.2" height="13.2" fill="#0000ff" fill-opacity="0.82" stroke="#0000ff" stroke-width="0.8"/>
<text id="R_blue" x="1096.80" textLength="180.90" lengthAdjust="spacing" y="117.0" font-size="22.6" fill="#0000ff" style="font-kerning:none">DOX-Nontargeted</text>
<path d="M1042.20 154.00H1077.80" stroke="#ff0000" stroke-width="1.8"/>
<path d="M1060.10 146.70L1066.70 154.00L1060.10 161.30L1053.50 154.00Z" fill="#ff0000"/>
<text id="R_red" x="1096.90" textLength="49.60" lengthAdjust="spacing" y="161.3" font-size="22.6" fill="#ff0000" style="font-kerning:none">DOX</text>
</svg>
</body></html>
